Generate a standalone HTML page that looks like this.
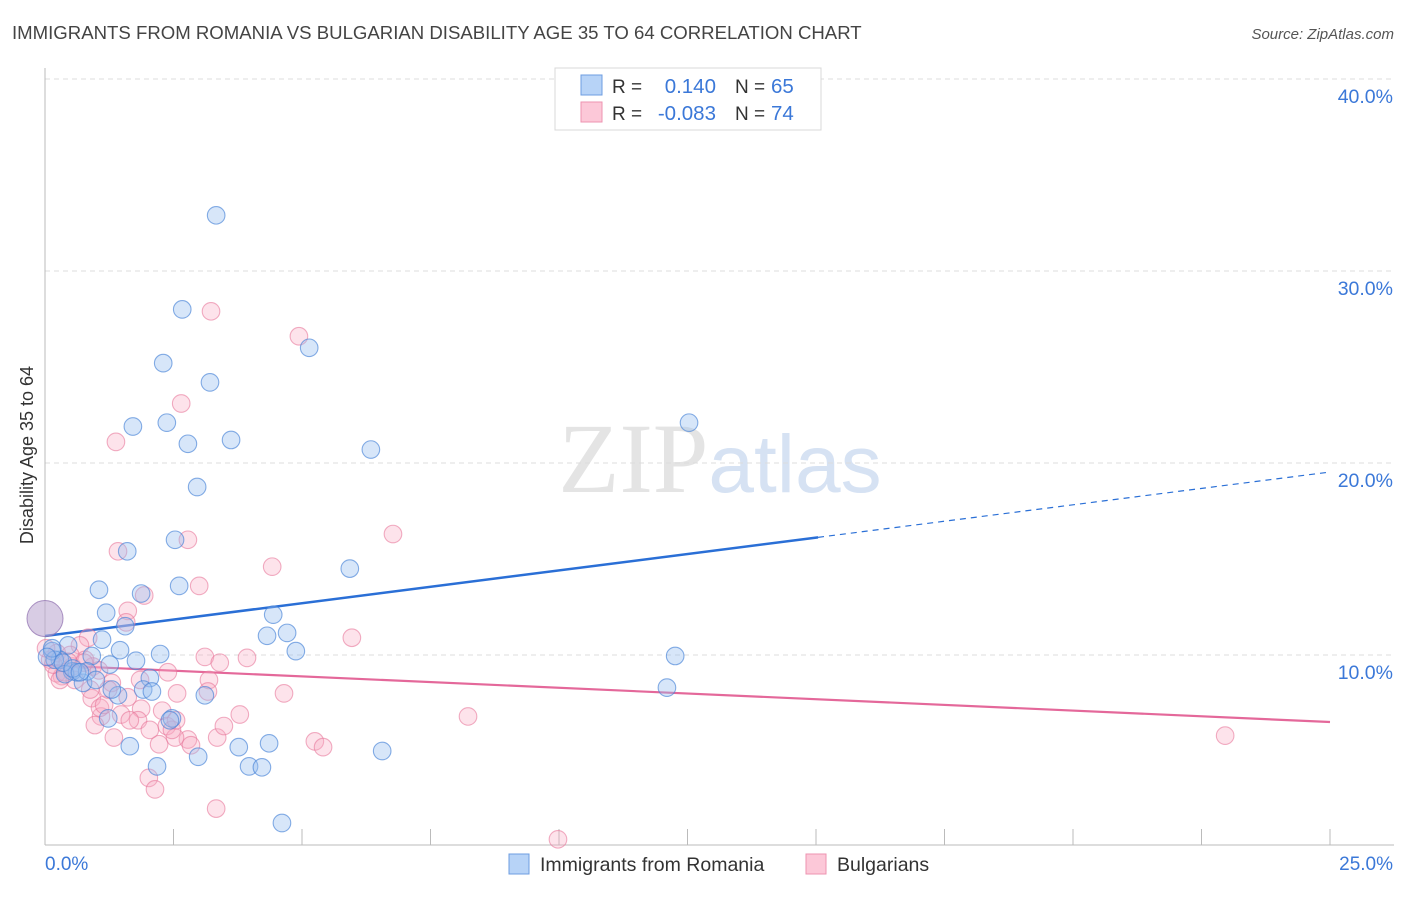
<!DOCTYPE html>
<html><head><meta charset="utf-8"><style>
body{margin:0;background:#fff;font-family:"Liberation Sans",sans-serif;}
</style></head><body>
<svg id="chart" width="1406" height="892" xmlns="http://www.w3.org/2000/svg" font-family="Liberation Sans, sans-serif">
<text x="12" y="39" font-size="18.6" fill="#444">IMMIGRANTS FROM ROMANIA VS BULGARIAN DISABILITY AGE 35 TO 64 CORRELATION CHART</text>
<text x="1394" y="39" font-size="15" fill="#555" text-anchor="end" font-style="italic">Source: ZipAtlas.com</text>
<text x="720" y="492" font-size="100" text-anchor="middle"><tspan fill="#e4e4e4" font-family="Liberation Serif, serif">ZIP</tspan><tspan fill="#d6e2f3" font-size="82">atlas</tspan></text>
<g id="grid"></g>
<g id="axes"></g>
<g id="lines"></g>
<g id="pts"></g>
<text transform="translate(33,455) rotate(-90)" font-size="18" fill="#333" text-anchor="middle">Disability Age 35 to 64</text>
<g>
<rect x="555" y="68" width="266" height="62" fill="#fff" stroke="#d8d8d8"/>
<rect x="581" y="75" width="21" height="20" fill="#b7d3f7" stroke="#6d9de0"/>
<rect x="581" y="102" width="21" height="20" fill="#fcc8d8" stroke="#ee93b0"/>
<text x="612" y="93" font-size="19" fill="#333">R =</text>
<text x="716" y="93" font-size="20.5" fill="#3b78d8" text-anchor="end">0.140</text>
<text x="735" y="93" font-size="19" fill="#333">N =</text>
<text x="771" y="93" font-size="20.5" fill="#3b78d8">65</text>
<text x="612" y="120" font-size="19" fill="#333">R =</text>
<text x="716" y="120" font-size="20.5" fill="#3b78d8" text-anchor="end">-0.083</text>
<text x="735" y="120" font-size="19" fill="#333">N =</text>
<text x="771" y="120" font-size="20.5" fill="#3b78d8">74</text>
</g>
<g>
<rect x="509" y="854" width="20" height="20" fill="#b7d3f7" stroke="#6d9de0"/>
<text x="540" y="871" font-size="19.5" fill="#333">Immigrants from Romania</text>
<rect x="806" y="854" width="20" height="20" fill="#fcc8d8" stroke="#ee93b0"/>
<text x="837" y="871" font-size="19.5" fill="#333">Bulgarians</text>
</g>
</svg>
<script>
const blueX=[3.33,2.67,2.30,5.14,3.21,1.71,2.37,2.78,3.62,6.34,12.53,2.96,2.53,1.60,5.93,1.05,2.61,1.87,1.19,1.56,4.44,4.32,4.71,1.11,4.88,2.24,1.46,0.45,0.91,12.26,1.26,1.77,2.04,12.10,1.91,2.08,3.11,0.74,0.53,0.29,0.14,1.42,1.23,2.47,3.77,4.36,1.65,2.98,2.18,3.97,4.22,6.56,4.61,0.19,0.62,0.39,0.82,0.99,0.14,0.04,0.35,0.54,0.68,1.30,2.43];
const blueY=[32.9,28.0,25.2,26.0,24.2,21.9,22.1,21.0,21.2,20.7,22.1,18.75,16.0,15.4,14.5,13.4,13.6,13.2,12.2,11.5,12.1,11.0,11.15,10.8,10.2,10.05,10.25,10.5,9.95,9.95,9.5,9.7,8.8,8.3,8.2,8.1,7.9,8.55,9.15,9.75,10.2,7.9,6.7,6.7,5.2,5.4,5.25,4.7,4.2,4.2,4.15,5.0,1.25,9.75,9.1,9.0,9.15,8.7,10.35,9.9,9.6,9.3,9.1,8.2,6.6];
const pinkX=[3.23,4.94,2.65,1.38,6.77,2.78,1.42,1.93,3.00,1.61,1.58,4.42,5.97,0.84,0.68,3.11,3.40,3.93,2.39,3.19,1.85,0.33,0.93,1.30,2.57,3.17,4.65,8.23,3.79,0.91,1.09,1.61,1.07,1.48,1.87,2.28,1.15,1.81,1.34,2.37,2.78,2.53,3.35,3.48,2.84,2.22,5.25,5.41,2.02,2.14,3.33,9.98,22.96,0.23,0.53,0.10,0.23,0.39,0.78,1.05,1.23,0.49,0.58,1.65,2.04,0.02,0.29,0.97,2.47,2.55,0.76,0.45,0.16,0.88];
const pinkY=[27.9,26.6,23.1,21.1,16.3,16.0,15.4,13.1,13.6,12.3,11.7,14.6,10.9,10.9,10.5,9.9,9.6,9.85,9.1,8.7,8.7,8.9,9.4,8.55,8.0,8.1,8.0,6.8,6.9,7.75,6.8,7.8,7.25,6.9,7.2,7.1,7.4,6.6,5.7,6.3,5.6,5.7,5.7,6.3,5.3,5.35,5.5,5.2,3.6,3.0,2.0,0.4,5.8,9.05,9.4,9.75,10.1,9.1,9.75,9.2,8.2,10.0,8.7,6.6,6.1,10.35,8.7,6.35,6.1,6.6,9.6,9.65,9.5,8.2];
const bigPoint=[0,11.9];
const blueTrend=[10.99,19.53]; const blueSolidEnd=15.04;
const pinkTrend=[9.48,6.51];
const yTicks=[10,20,30,40];
const yTickLabels=["10.0%","20.0%","30.0%","40.0%"];
const xTickLabels=["0.0%","25.0%"];
const X0=45,X1=1330,Y0=847;
const sx=v=>X0+(X1-X0)*v/25, sy=v=>Y0-19.2*v;
const NS="http://www.w3.org/2000/svg";
function mk(t,a,p){const e=document.createElementNS(NS,t);for(const k in a)e.setAttribute(k,a[k]);p.appendChild(e);return e;}
const grid=document.getElementById('grid'),axes=document.getElementById('axes'),lines=document.getElementById('lines'),pts=document.getElementById('pts');
yTicks.forEach((t,i)=>{
 const l=mk('line',{x1:X0,x2:1394,y1:sy(t),y2:sy(t),stroke:'#dcdcdc','stroke-dasharray':'5,4'},grid);
 
 
 const tx=mk('text',{x:1393,y:sy(t)+24,'font-size':19.5,fill:'#3b78d8','text-anchor':'end'},axes);
 tx.textContent=yTickLabels[i];
 
 
});
mk('line',{x1:X0,x2:X0,y1:68,y2:845,stroke:'#bbb'},axes);
mk('line',{x1:X0,x2:1394,y1:845,y2:845,stroke:'#bbb'},axes);
for(let k=1;k<=10;k++){const x=X0+(X1-X0)*k/10;mk('line',{x1:x,x2:x,y1:829,y2:845,stroke:'#bbb'},axes);}
const xl0=mk('text',{x:45,y:870,'font-size':19,fill:'#3b78d8'},axes);xl0.textContent=xTickLabels[0];


const xl1=mk('text',{x:1393,y:870,'font-size':19,fill:'#3b78d8','text-anchor':'end'},axes);xl1.textContent=xTickLabels[1];


function drawPts(xs,ys,fill,stroke,name){xs.forEach((x,i)=>{const c=mk('circle',{cx:sx(x),cy:sy(ys[i]),r:8.8,fill:fill,stroke:stroke,'stroke-width':1.1},pts);
 
 });}
drawPts(pinkX,pinkY,'rgba(248,170,195,0.33)','rgba(232,120,155,0.6)','bulgarian-point');
drawPts(blueX,blueY,'rgba(150,190,240,0.38)','rgba(70,130,215,0.65)','romania-point');
const bp=mk('circle',{cx:sx(bigPoint[0]),cy:sy(bigPoint[1]),r:18,fill:'rgba(190,170,210,0.6)',stroke:'rgba(150,120,180,0.8)'},pts);


const bt=v=>blueTrend[0]+(blueTrend[1]-blueTrend[0])*v/25;
const b1=mk('line',{x1:sx(0),y1:sy(bt(0)),x2:sx(blueSolidEnd),y2:sy(bt(blueSolidEnd)),stroke:'#2a6fd6','stroke-width':2.5},lines);


const b2=mk('line',{x1:sx(blueSolidEnd),y1:sy(bt(blueSolidEnd)),x2:sx(25),y2:sy(bt(25)),stroke:'#2a6fd6','stroke-width':1.2,'stroke-dasharray':'6,5'},lines);


const p1=mk('line',{x1:sx(0),y1:sy(pinkTrend[0]),x2:sx(25),y2:sy(pinkTrend[1]),stroke:'#e4689a','stroke-width':2.2},lines);


</script>
</body></html>
